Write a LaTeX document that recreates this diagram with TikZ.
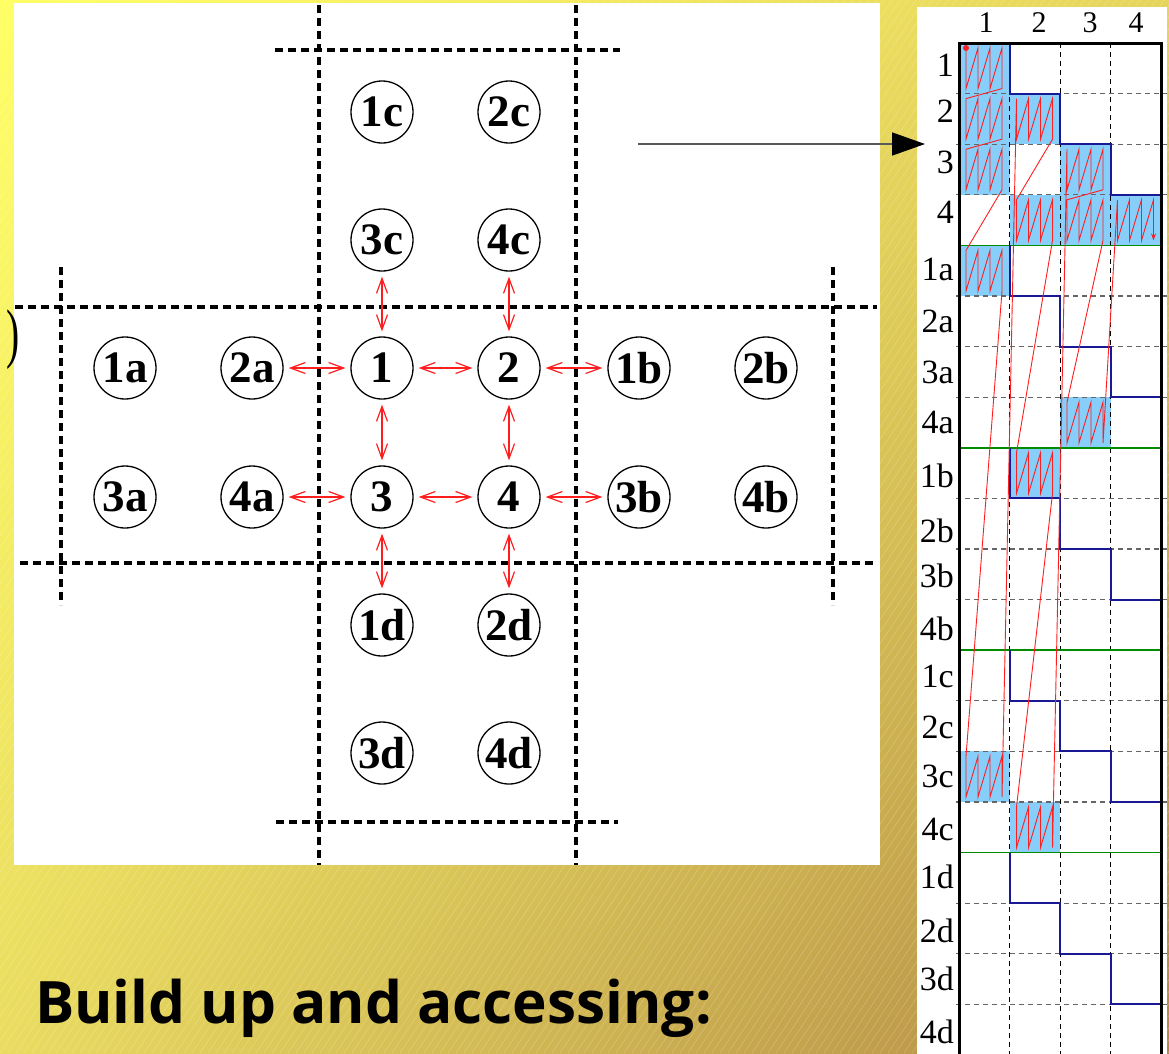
\documentclass[tikz,border=0pt]{standalone}
\usepackage{fontspec}
\setmainfont{Liberation Serif}
\newfontfamily\titlefont{Open Sans}
\usetikzlibrary{arrows.meta,shadings}

\definecolor{bgTL}{HTML}{FFFF66}
\definecolor{bgTR}{HTML}{E6D45C}
\definecolor{bgBL}{HTML}{E9DC60}
\definecolor{bgBR}{HTML}{B28944}
\definecolor{cellblue}{RGB}{135,206,250}
\definecolor{stairblue}{RGB}{25,25,150}
\definecolor{groupgreen}{RGB}{0,140,0}
\definecolor{accred}{RGB}{255,30,30}

\begin{document}
\begin{tikzpicture}[x=1pt,y=-1pt,
  proc/.style={circle,draw,line width=1.3pt,minimum size=62pt,inner sep=0pt,
    font=\fontsize{45}{45}\selectfont\bfseries},
  part/.style={line width=3.2pt,dash pattern=on 8pt off 5pt},
  comm/.style={accred,line width=1.2pt,
    {Straight Barb[length=15pt,width=11pt]}-{Straight Barb[length=15pt,width=11pt]},
    shorten <=5pt,shorten >=5pt},
  rowlab/.style={anchor=base east,inner sep=0pt,font=\fontsize{34}{34}\selectfont},
  collab/.style={anchor=base,inner sep=0pt,font=\fontsize{30}{30}\selectfont},
  rowdash/.style={draw=black!60,line width=1.3pt,dash pattern=on 5pt off 4pt},
  coldash/.style={draw=black,line width=0.8pt,dash pattern=on 5pt off 4pt},
  stair/.style={draw=stairblue,line width=2pt},
  grpline/.style={draw=groupgreen,line width=1.5pt},
  accpath/.style={draw=accred,line width=0.9pt,-{Stealth[length=7pt,width=5pt]}}]

\useasboundingbox (0,0) rectangle (1169,1053);

% backdrop with faint diagonal hatching
\shade[upper left=bgTL,upper right=bgTR,lower left=bgBL,lower right=bgBR]
  (0,0) rectangle (1169,1053);
\begin{scope}
  \clip (0,0) rectangle (1169,1053);
  \foreach \i in {-80,...,146}
    \draw[white,opacity=0.22,line width=0.6pt] ({\i*8},1053) -- ({\i*8+700},0);
\end{scope}

% white panels
\fill[white] (14,3) rectangle (880,865);
\fill[white] (917,7) rectangle (1167,1060);

% domain partition lines
\draw[part] (319,5) -- (319,865);
\draw[part] (576,5) -- (576,865);
\draw[part] (61,267) -- (61,605);
\draw[part] (833,267) -- (833,605);
\draw[part] (15,307) -- (877,307);
\draw[part] (20,563) -- (877,563);
\draw[part] (275,50) -- (620,50);
\draw[part] (276,822) -- (618,822);

% processes
\foreach \lab/\x/\y in {1c/382/112, 2c/509/112, 3c/382/240, 4c/509/240,
    1a/125/368, 2a/252/368, 1/382/368, 2/509/368, 1b/639/368, 2b/766/368,
    3a/125/497, 4a/252/497, 3/382/497, 4/509/497, 3b/639/497, 4b/766/497,
    1d/382/625, 2d/509/625, 3d/382/753, 4d/509/753}
  \node[proc] (n\lab) at (\x,\y) {\lab};

% neighbour communication
\foreach \a/\b in {2a/1, 1/2, 2/1b, 4a/3, 3/4, 4/3b, 3c/1, 4c/2, 1/3, 2/4, 3/1d, 4/2d}
  \draw[comm] (n\a) -- (n\b);

\node[anchor=base west,inner sep=0pt,font=\fontsize{66}{66}\selectfont] (paren) at (6,355)
  {\scalebox{0.6}[1]{)}};

% pointer to the storage matrix
\coordinate (src) at (638,144);
\coordinate (dst) at (925,144);
\draw[line width=1.6pt,draw=black!65,-{Triangle[length=33pt,width=23pt,color=black]}] (src) -- (dst);

% stored blocks
\foreach \r/\c in {0/0,1/0,1/1,2/0,2/2,3/1,3/2,3/3,4/0,7/2,8/1,14/0,15/1}
  \fill[cellblue] ({959+\c*50.5},{43+\r*50.6}) rectangle +(50.5,50.6);

% row and column separators
\foreach \k in {1,2,3,5,6,7,9,10,11,13,14,15,17,18,19}
  \draw[rowdash] (956,{43+\k*50.6}) -- (1167,{43+\k*50.6});
\foreach \c in {1,2,3}
  \draw[coldash] ({959+\c*50.5},43) -- ({959+\c*50.5},1060);
\foreach \k in {4,8,12,16}
  \draw[grpline] (959,{43+\k*50.6}) -- (1161,{43+\k*50.6});

% staircase of each group
\foreach \g in {0,...,4}
  \draw[stair] (1009.5,{43+4*\g*50.6}) -- (1009.5,{43+(4*\g+1)*50.6})
    -- (1060,{43+(4*\g+1)*50.6}) -- (1060,{43+(4*\g+2)*50.6})
    -- (1110.5,{43+(4*\g+2)*50.6}) -- (1110.5,{43+(4*\g+3)*50.6})
    -- (1161,{43+(4*\g+3)*50.6});

% matrix frame
\draw[line width=3pt] (959,1060) -- (959,43) -- (1161,43) -- (1161,1060);

% access order through the stored blocks
\draw[accpath] (966,48)
  \foreach \r/\c in {0/0,1/0,2/0,4/0,14/0,1/1,3/1,8/1,15/1,2/2,3/2,7/2,3/3} {
    -- ({966+\c*50.5},{48+\r*50.6}) -- ({966+\c*50.5},{88.6+\r*50.6})
    -- ({978+\c*50.5},{48+\r*50.6}) -- ({978+\c*50.5},{88.6+\r*50.6})
    -- ({990+\c*50.5},{48+\r*50.6}) -- ({990+\c*50.5},{88.6+\r*50.6})
    -- ({1002+\c*50.5},{48+\r*50.6}) -- ({1002+\c*50.5},{88.6+\r*50.6})
  };
\fill[accred] (966,48) circle (3pt);

% column numbers
\foreach \t/\x in {1/986, 2/1039, 3/1090, 4/1136}
  \node[collab] (col\t) at (\x,32) {\t};

% row names
\foreach \t/\y in {1/76, 2/122, 3/173, 4/223, 1a/280, 2a/332, 3a/383, 4a/433,
    1b/487, 2b/542, 3b/587, 4b/640, 1c/687, 2c/738, 3c/787, 4c/840,
    1d/888, 2d/942, 3d/990, 4d/1043}
  \node[rowlab] (row\t) at (954,\y) {\t};

% caption
\node[anchor=base west,inner sep=0pt,font={\titlefont\bfseries\fontsize{58.5}{58.5}\selectfont}]
  (title) at (35,1023) {Build up and accessing:};
\end{tikzpicture}
\end{document}
